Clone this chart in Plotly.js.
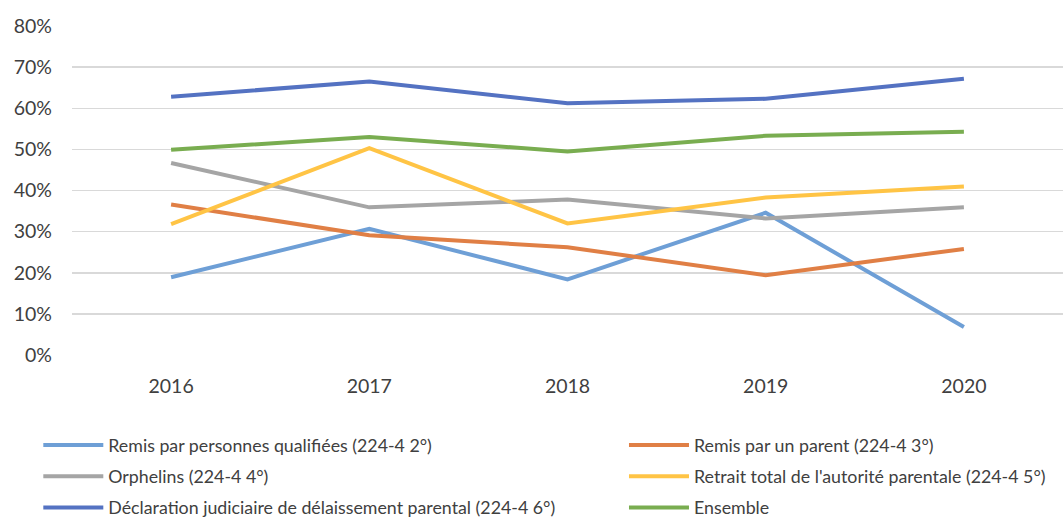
<!DOCTYPE html>
<html>
<head>
<meta charset="utf-8">
<script src="https://cdn.plot.ly/plotly-3.0.1.min.js"></script>
<style>html,body{margin:0;padding:0;background:#fff}#chart{width:1064px;height:517px}</style>
</head>
<body>
<div id="chart"></div>
<script>
const years = ['2016', '2017', '2018', '2019', '2020'];
const remisQualifiees = [0.189, 0.307, 0.184, 0.346, 0.068];
const remisParent = [0.366, 0.291, 0.262, 0.194, 0.258];
const orphelins = [0.467, 0.359, 0.378, 0.332, 0.359];
const retraitAutorite = [0.318, 0.503, 0.320, 0.383, 0.410];
const delaissement = [0.628, 0.665, 0.612, 0.623, 0.672];
const ensemble = [0.499, 0.530, 0.495, 0.533, 0.543];

const names = [
  'Remis par personnes qualifiées (224-4 2°)',
  'Remis par un parent (224-4 3°)',
  'Orphelins (224-4 4°)',
  "Retrait total de l'autorité parentale (224-4 5°)",
  'Déclaration judiciaire de délaissement parental (224-4 6°)',
  'Ensemble'
];
const series = [remisQualifiees, remisParent, orphelins, retraitAutorite, delaissement, ensemble];
const colors = ['#6E9FD6', '#E07F45', '#A5A5A5', '#FFC445', '#5472C2', '#79AD50'];

const FONT = 'Lato, "Open Sans", sans-serif';

const traces = series.map((vals, i) => ({
  type: 'scatter',
  mode: 'lines',
  x: years,
  y: vals,
  name: names[i],
  legend: (i % 2 === 0) ? 'legend' : 'legend2',
  legendgroup: 'g' + i,
  line: {color: colors[i], width: 4},
  hoverinfo: 'x+y+name'
}));

const legendBase = {
  orientation: 'v',
  xref: 'paper',
  yref: 'container',
  xanchor: 'left',
  y: 0.174,
  yanchor: 'top',
  itemwidth: 60,
  tracegroupgap: 5,
  traceorder: 'grouped',
  bgcolor: 'rgba(0,0,0,0)',
  font: {family: FONT, size: 17.8, color: '#404040'}
};

const layout = {
  width: 1064,
  height: 517,
  margin: {l: 72, r: 1, t: 26, b: 162},
  paper_bgcolor: '#fff',
  plot_bgcolor: '#fff',
  font: {family: FONT, size: 17, color: '#404040'},
  xaxis: {
    type: 'category',
    showgrid: false,
    zeroline: false,
    showline: false,
    ticks: '',
    tickfont: {family: FONT, size: 19.5, color: '#404040'},
    ticklabelstandoff: 17,
    range: [-0.5, 4.5]
  },
  yaxis: {
    range: [0, 0.8],
    tickvals: [0, 0.1, 0.2, 0.3, 0.4, 0.5, 0.6, 0.7, 0.8],
    tickformat: '.0%',
    showgrid: true,
    gridcolor: '#D9D9D9',
    gridwidth: 1.5,
    zeroline: false,
    showline: false,
    ticks: '',
    tickfont: {family: FONT, size: 19.5, color: '#404040'},
    ticklabelstandoff: 19
  },
  showlegend: true,
  legend: Object.assign({}, legendBase, {x: -0.034}),
  legend2: Object.assign({}, legendBase, {x: 0.557})
};

Plotly.newPlot('chart', traces, layout, {displayModeBar: false, staticPlot: true});
</script>
</body>
</html>
